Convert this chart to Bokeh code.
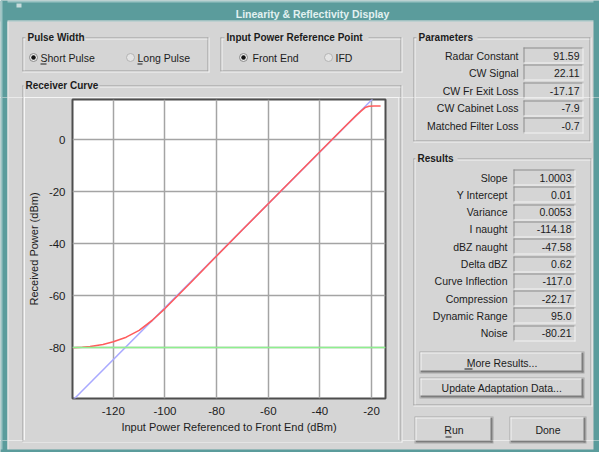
from bokeh.plotting import figure
from bokeh.layouts import column, row
from bokeh.models import Range1d, Span, FixedTicker, ColumnDataSource
from bokeh.core.properties import value
from bokeh.embed import file_html
from bokeh.resources import INLINE

# ---------------- data ----------------
x_ticks = [-120, -100, -80, -60, -40, -20]
x_tick_labels = ["-120", "-100", "-80", "-60", "-40", "-20"]
y_ticks = [0, -20, -40, -60, -80]
y_tick_labels = ["0", "-20", "-40", "-60", "-80"]

# measured receiver curve (red)
measured_x = [-135.6, -132, -129, -124, -120, -115, -110, -105, -100, -95, -90,
              -80, -70, -60, -50, -40, -30, -26, -24, -22.5, -21, -19, -16.5]
measured_y = [-80.1, -79.9, -79.6, -78.8, -77.8, -76.0, -73.4, -69.6, -65.0, -60.0, -55.0,
              -44.8, -34.7, -24.7, -14.7, -4.7, 5.3, 9.2, 11.0, 12.3, 12.8, 12.9, 12.9]
# ideal linear response (blue)
ideal_x = [-135.6, -19.6]
ideal_y = [-100.2, 15.6]
# noise floor (green)
noise_floor = -80.0

pulse_options = ["Short Pulse", "Long Pulse"]
pulse_selected = [True, False]
ref_options = ["Front End", "IFD"]
ref_selected = [True, False]

param_labels = ["Radar Constant", "CW Signal", "CW Fr Exit Loss", "CW Cabinet Loss", "Matched Filter Loss"]
param_values = ["91.59", "22.11", "-17.17", "-7.9", "-0.7"]

result_labels = ["Slope", "Y Intercept", "Variance", "I naught", "dBZ naught", "Delta dBZ",
                 "Curve Inflection", "Compression", "Dynamic Range", "Noise"]
result_values = ["1.0003", "0.01", "0.0053", "-114.18", "-47.58", "0.62",
                 "-117.0", "-22.17", "95.0", "-80.21"]

# ---------------- style constants ----------------
WIN_W, WIN_H = 599, 452
BG = "#d5d5d5"
DARK = "#9c9c9c"
WHITE = "#f4f4f4"
TEAL = "#5b9c9c"
TXT = "#1c1c1c"
FONT = "Liberation Sans"
FS = "10.5px"

# ---------------- window decoration primitives (window pixel coords) ----------------
RECTS = []   # (x0, y0, x1, y1, color)
TEXTS = []   # (x, y, text, align, size, style, color)
RADIOS = []  # (x, y, selected)


def rect(x0, y0, x1, y1, color):
    RECTS.append((x0, y0, x1, y1, color))


def text(x, y, s, align="left", size=FS, style="normal", color=TXT):
    TEXTS.append((x, y, s, align, size, style, color))


def group(x0, y0, x1, y1, title, tx, tw):
    rect(x0, y0, x1, y0 + 1, DARK)
    rect(x0, y0, x0 + 1, y1, DARK)
    rect(x0, y1 - 1, x1, y1, DARK)
    rect(x1 - 1, y0, x1, y1, DARK)
    rect(x0 + 1, y0 + 1, x1 - 1, y0 + 2, WHITE)
    rect(x0 + 1, y0 + 1, x0 + 2, y1 - 1, WHITE)
    rect(x0, y1, x1 + 1, y1 + 1, WHITE)
    rect(x1, y0, x1 + 1, y1 + 1, WHITE)
    rect(tx - 2, y0 - 3, tx + tw + 2, y0 + 3, BG)
    text(tx, y0, title, size="10px", style="bold")


def field(x0, y0, x1, y1):
    rect(x0, y0, x1, y0 + 1, "#8c8c8c")
    rect(x0, y0, x0 + 1, y1, "#8c8c8c")
    rect(x0, y1 - 1, x1, y1, WHITE)
    rect(x1 - 1, y0, x1, y1, WHITE)


def button(x0, y0, x1, y1, label, underline=None):
    rect(x0 - 1, y0 - 1, x1 + 1, y1 + 1, "#a8a8a8")
    rect(x0, y0, x1, y1, BG)
    rect(x0, y0, x1, y0 + 1, WHITE)
    rect(x0, y0, x0 + 1, y1, WHITE)
    rect(x0, y1 - 2, x1, y1, "#7c7c7c")
    rect(x1 - 2, y0, x1, y1, "#7c7c7c")
    text((x0 + x1) / 2, (y0 + y1) / 2, label, align="center")
    if underline:
        rect(underline[0], underline[1], underline[2], underline[1] + 1, TXT)


# window frame and title bar
rect(0, 0, WIN_W, 21, TEAL)
rect(0, 0, WIN_W, 2, "#9cc4c4")
rect(0, 20, WIN_W, 21, "#e6e6e6")
rect(16, 3, 21, 7, "#c8dcdc")
rect(0, 0, 7, WIN_H, TEAL)
rect(0, 0, 2, WIN_H, "#9cc4c4")
rect(7, 21, 8, WIN_H, "#ececec")
rect(WIN_W - 6, 0, WIN_W, WIN_H, TEAL)
rect(0, WIN_H - 3, WIN_W, WIN_H, TEAL)
text(312, 13, "Linearity & Reflectivity Display", align="center", size="10.5px", style="bold",
     color="#e2f1f1")

# group boxes
group(22, 37, 208, 71, "Pulse Width", 27, 56)
group(220, 37, 401, 71, "Input Power Reference Point", 226, 140)
group(413, 37, 590, 141, "Parameters", 418, 57)
group(22, 85, 401, 441, "Receiver Curve", 25, 72)
group(413, 158, 591, 405, "Results", 417, 38)

# radio buttons
radio_pos = [(33, 40, 130, 137), (243, 252, 328, 335)]
for (d0, t0, d1, t1), opts, sel in zip(radio_pos, (pulse_options, ref_options), (pulse_selected, ref_selected)):
    for dx, tx, o, s in ((d0, t0, opts[0], sel[0]), (d1, t1, opts[1], sel[1])):
        RADIOS.append((dx, 57, s))
        text(tx, 57, o)
rect(40, 63, 46, 64, TXT)
rect(137, 63, 142, 64, TXT)

# parameters
for i, (lab, val) in enumerate(zip(param_labels, param_values)):
    y = 55 + i * 17.5
    field(523, round(y - 8), 583, round(y + 8))
    text(518, y, lab, align="right")
    text(579, y, val, align="right")

# results
for i, (lab, val) in enumerate(zip(result_labels, result_values)):
    y = 177 + i * 17.3
    field(513, round(y - 8), 575, round(y + 8))
    text(507, y, lab, align="right")
    text(571, y, val, align="right")

button(420, 352, 583, 372, "More Results...", (464, 368, 472))
button(420, 378, 583, 397, "Update Adaptation Data...")
button(415, 417, 492, 442, "Run", (445, 436, 451))
button(510, 417, 585, 442, "Done")


def gui_strip(X0, X1, Y0, Y1):
    f = figure(width=X1 - X0, height=Y1 - Y0, x_range=Range1d(X0, X1), y_range=Range1d(Y1, Y0),
               output_backend="svg", toolbar_location=None, min_border=0, title=None,
               x_axis_location=None, y_axis_location=None)
    f.frame_align = False
    f.outline_line_color = None
    f.background_fill_color = BG
    f.border_fill_color = BG
    f.grid.grid_line_color = None
    rs = ColumnDataSource(dict(l=[r[0] for r in RECTS], t=[r[1] for r in RECTS],
                               r=[r[2] for r in RECTS], b=[r[3] for r in RECTS],
                               c=[r[4] for r in RECTS]))
    f.quad(left="l", right="r", top="t", bottom="b", fill_color="c", line_color=None, source=rs)
    for (rx, ry, s) in RADIOS:
        if s:
            f.scatter([rx], [ry], marker="circle", size=8, fill_color="#ededed", line_color="#8a8a8a")
            f.scatter([rx], [ry], marker="circle", size=4.5, fill_color="#111111", line_color=None)
        else:
            f.scatter([rx], [ry], marker="circle", size=8, fill_color="#e4e4e4", line_color="#b4b4b4")
    groups = {}
    for (tx, ty, s, al, sz, st, col) in TEXTS:
        if X0 <= tx < X1 and Y0 <= ty < Y1:
            groups.setdefault((al, sz, st, col), []).append((tx, ty, s))
    for (al, sz, st, col), items in groups.items():
        src = ColumnDataSource(dict(x=[i[0] for i in items], y=[i[1] for i in items],
                                    s=[i[2] for i in items]))
        f.text(x="x", y="y", text="s", source=src, text_font=value(FONT), text_font_size=value(sz),
               text_font_style=value(st), text_color=value(col), text_align=value(al),
               text_baseline=value("middle"))
    return f


# ---------------- receiver curve chart ----------------
CX0, CX1, CY0, CY1 = 24, 398, 97, 440      # chart figure region in window
FL, FT, FR, FB = 70, 99, 385, 398          # plot frame in window

p = figure(width=CX1 - CX0, height=CY1 - CY0, title=None,
           x_range=Range1d(-135.8, -14.6), y_range=Range1d(-99.6, 15.4),
           output_backend="svg", toolbar_location=None,
           min_border_left=FL - CX0, min_border_right=CX1 - FR,
           min_border_top=FT - CY0, min_border_bottom=CY1 - FB)
p.frame_align = False
p.background_fill_color = "white"
p.border_fill_color = BG
p.outline_line_color = "#4e4e4e"
p.outline_line_width = 2

for ax, ticks, labels in ((p.xaxis[0], x_ticks, x_tick_labels), (p.yaxis[0], y_ticks, y_tick_labels)):
    ax.ticker = FixedTicker(ticks=ticks)
    ax.major_label_overrides = {t: l for t, l in zip(ticks, labels)}
    ax.axis_line_color = None
    ax.major_tick_line_color = None
    ax.minor_tick_line_color = None
    ax.major_tick_out = 0
    ax.major_tick_in = 0
    ax.major_label_text_font = FONT
    ax.major_label_text_font_size = "11.5px"
    ax.major_label_text_color = TXT
    ax.axis_label_text_font = FONT
    ax.axis_label_text_font_size = "11px"
    ax.axis_label_text_font_style = "normal"
    ax.axis_label_text_color = TXT

p.xaxis.axis_label = "Input Power Referenced to Front End (dBm)"
p.yaxis.axis_label = "Received Power (dBm)"
p.xaxis.major_label_standoff = 8
p.xaxis.axis_label_standoff = 3
p.yaxis.major_label_standoff = 7
p.yaxis.axis_label_standoff = 6

p.xgrid.grid_line_color = "#a4a4a4"
p.ygrid.grid_line_color = "#a4a4a4"
p.xgrid.grid_line_width = 1.5
p.ygrid.grid_line_width = 1.5

p.add_layout(Span(location=noise_floor, dimension="width", line_color="#8ef08e", line_width=1.5, level="glyph"))
p.line(ideal_x, ideal_y, line_color="#a9a9ff", line_width=1.5)
p.line(measured_x, measured_y, line_color="#ff5c5c", line_width=1.6)

top = gui_strip(0, WIN_W, 0, CY0)
left = gui_strip(0, CX0, CY0, CY1)
right = gui_strip(CX1, WIN_W, CY0, CY1)
bottom = gui_strip(0, WIN_W, CY1, WIN_H)

layout = column(top, row(left, p, right, spacing=0), bottom, spacing=0)

open("out.html", "w").write(file_html(layout, INLINE))
